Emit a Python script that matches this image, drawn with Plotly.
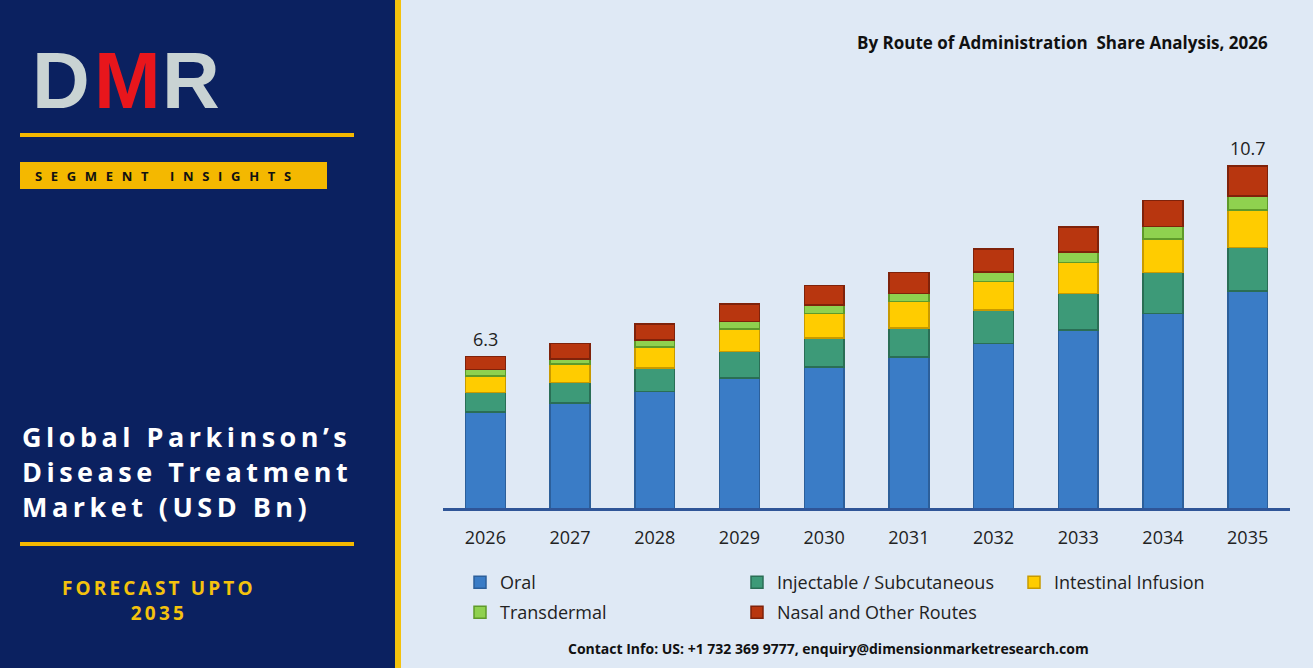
import plotly.graph_objects as go

years = ["2026","2027","2028","2029","2030","2031","2032","2033","2034","2035"]
oral = [5.03,5.24,5.51,5.82,6.07,6.30,6.62,6.93,7.31,7.83]
injectable = [0.45,0.47,0.54,0.61,0.67,0.67,0.77,0.84,0.94,1.00]
intestinal = [0.39,0.43,0.49,0.52,0.57,0.61,0.65,0.71,0.78,0.86]
transdermal = [0.15,0.12,0.16,0.17,0.19,0.19,0.22,0.25,0.28,0.33]
nasal = [0.29,0.35,0.37,0.41,0.45,0.48,0.53,0.57,0.61,0.69]
totals_labels = {"2026": "6.3", "2035": "10.7"}

series = [("Oral", oral, "#3a7cc6", "#2c5f9a", "legend"),
          ("Injectable / Subcutaneous", injectable, "#3d9a78", "#2a6e55", "legend"),
          ("Intestinal Infusion", intestinal, "#ffcc00", "#c89a00", "legend"),
          ("Transdermal", transdermal, "#8fd14f", "#5f9a2a", "legend2"),
          ("Nasal and Other Routes", nasal, "#b8360f", "#7f220a", "legend2")]

fig = go.Figure()
for name, vals, col, lc, lg in series:
    fig.add_trace(go.Bar(x=years, y=vals, name=name, legend=lg,
                         marker=dict(color=col, line=dict(color=lc, width=1.5))))

for yr, lab in totals_labels.items():
    i = years.index(yr)
    tot = oral[i]+injectable[i]+intestinal[i]+transdermal[i]+nasal[i]
    fig.add_annotation(x=i, y=tot, xref="x", yref="y", text=lab, showarrow=False, yshift=18,
                       font=dict(size=18, color="#222", family="Open Sans"))

W, H = 1313, 668
px = lambda v: v / W
py = lambda v: 1 - v / H

def spaced(s, sep="\u200a"):
    return sep.join(s)

shapes = [
    dict(type="rect", xref="paper", yref="paper", x0=0, x1=px(395), y0=0, y1=1,
         fillcolor="#0b2160", line=dict(width=0), layer="below"),
    dict(type="rect", xref="paper", yref="paper", x0=px(395), x1=px(401), y0=0, y1=1,
         fillcolor="#f4c20d", line=dict(width=0), layer="below"),
    dict(type="rect", xref="paper", yref="paper", x0=px(20), x1=px(354), y0=py(137), y1=py(133),
         fillcolor="#f4b800", line=dict(width=0)),
    dict(type="rect", xref="paper", yref="paper", x0=px(20), x1=px(327), y0=py(189), y1=py(162),
         fillcolor="#f4b800", line=dict(width=0)),
    dict(type="rect", xref="paper", yref="paper", x0=px(20), x1=px(354), y0=py(546), y1=py(542),
         fillcolor="#f4b800", line=dict(width=0)),
]

ann = [
    dict(x=px(30), y=py(80), text="<b>D</b>", font=dict(size=80, color="#c9d3d3", family="Liberation Sans"), xanchor="left"),
    dict(x=px(92), y=py(80), text="<b>M</b>", font=dict(size=80, color="#e8161c", family="Liberation Sans"), xanchor="left"),
    dict(x=px(160), y=py(80), text="<b>R</b>", font=dict(size=80, color="#c9d3d3", family="Liberation Sans"), xanchor="left"),
    dict(x=px(33), y=py(176), text="<b>" + "\u2002\u2009".join("SEGMENT") + "\u2002\u2002\u2002\u2009" + "\u2002\u2009".join("INSIGHTS") + "</b>",
         font=dict(size=13, color="#111", family="Open Sans"), xanchor="left"),
    dict(x=px(20), y=py(471), text="<b>" + spaced("Global Parkinson’s", "\u2009") + "<br>" + spaced("Disease Treatment", "\u2009") + "<br>" + spaced("Market (USD Bn)", "\u2009") + "</b>",
         font=dict(size=27, color="white", family="Open Sans"), xanchor="left", align="left"),
    dict(x=px(157), y=py(600), text="<b>" + spaced("FORECAST UPTO", "\u2009") + "<br>" + spaced("2035", "\u2009") + "</b>",
         font=dict(size=19, color="#f4c20d", family="Open Sans"), align="center", xanchor="center"),
    dict(x=px(1270), y=py(42), text="<b>By Route of Administration  Share Analysis, 2026</b>",
         font=dict(size=17, color="#111", family="Open Sans"), xanchor="right"),
    dict(x=px(828), y=py(648), text="<b>Contact Info: US: +1 732 369 9777, enquiry@dimensionmarketresearch.com</b>",
         font=dict(size=14, color="#111", family="Open Sans")),
]
for a in ann:
    a.update(xref="paper", yref="paper", showarrow=False, yanchor="middle")
    fig.add_annotation(**a)

lfont = dict(size=18, color="#222", family="Open Sans")
fig.update_layout(
    width=W, height=H, barmode="stack", bargap=0.53,
    paper_bgcolor="#dfe9f5", plot_bgcolor="rgba(0,0,0,0)",
    margin=dict(l=0, r=0, t=0, b=0, autoexpand=False), shapes=shapes,
    xaxis=dict(type="category", categoryorder="array", categoryarray=years, range=[-0.5, 9.5],
               domain=[px(443), px(1290)], showline=True, linecolor="#2f5597", linewidth=2.5,
               tickfont=dict(size=18, color="#222", family="Open Sans"), ticks="", automargin=False,
               ticklabelstandoff=12),
    yaxis=dict(domain=[py(508), py(140)], range=[2.82, 11.31], visible=False, showgrid=False, automargin=False),
    legend=dict(orientation="h", x=px(460), xanchor="left", y=py(564), yanchor="top", traceorder="normal",
                entrywidth=232, entrywidthmode="pixels", font=lfont, bgcolor="rgba(0,0,0,0)", itemwidth=30),
    legend2=dict(orientation="h", x=px(460), xanchor="left", y=py(594), yanchor="top", traceorder="normal",
                 entrywidth=232, entrywidthmode="pixels", font=lfont, bgcolor="rgba(0,0,0,0)", itemwidth=30),
    showlegend=True,
)
fig.write_html("out.html", post_script="document.body.style.margin='0';",
               config={"displayModeBar": False})
